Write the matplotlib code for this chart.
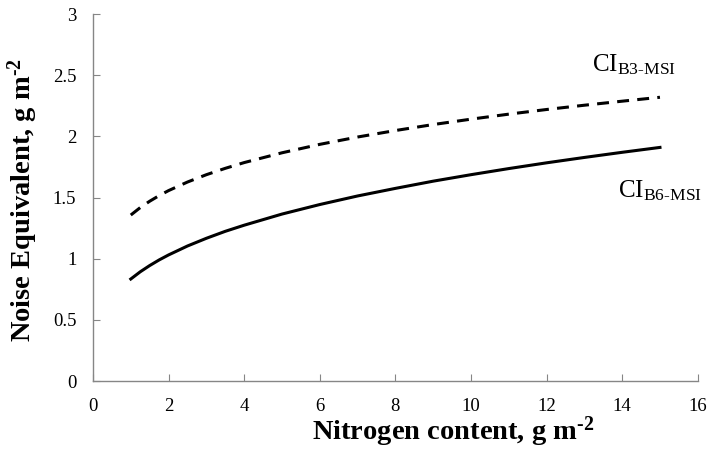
import numpy as np
import matplotlib
matplotlib.use('Agg')
import matplotlib.pyplot as plt

plt.rcParams['font.family'] = ['Liberation Serif', 'DejaVu Serif']
plt.rcParams['mathtext.fontset'] = 'custom'
plt.rcParams['mathtext.rm'] = 'Liberation Serif'
plt.rcParams['mathtext.bf'] = 'Liberation Serif:bold'
plt.rcParams['mathtext.it'] = 'Liberation Serif:italic'

# nitrogen content (g m-2)
n_content = [1, 1.25, 1.5, 1.75, 2, 2.5, 3, 3.5, 4, 5, 6, 7, 8, 9, 10,
             11, 12, 13, 14, 15]
# noise equivalent of the two indices
ne_b3 = [1.357, 1.418, 1.470, 1.516, 1.557, 1.627, 1.687, 1.739, 1.786,
         1.866, 1.935, 1.995, 2.048, 2.097, 2.141, 2.182, 2.220, 2.255,
         2.288, 2.320]
ne_b6 = [0.834, 0.893, 0.944, 0.990, 1.031, 1.104, 1.167, 1.224, 1.274,
         1.365, 1.443, 1.513, 1.575, 1.634, 1.687, 1.737, 1.784, 1.828,
         1.870, 1.910]

fig = plt.figure(figsize=(7.12, 4.55), dpi=100)
ax = fig.add_axes([0.1306, 0.1626, 0.8494, 0.8064])

ax.plot(n_content, ne_b3, color='black', lw=2.2, linestyle=(0, (3.9, 2.7)))
ax.plot(n_content, ne_b6, color='black', lw=2.2)

ax.text(13.2, 2.53, r'$\mathrm{CI}_{\mathrm{B3}\text{-}\mathrm{MSI}}$', fontsize=18)
ax.text(13.9, 1.50, r'$\mathrm{CI}_{\mathrm{B6}\text{-}\mathrm{MSI}}$', fontsize=18)

ax.set_xlim(0, 16)
ax.set_ylim(0, 3)
ax.set_xticks(np.arange(0, 17, 2))
ax.set_yticks(np.arange(0, 3.01, 0.5))
ax.set_yticklabels(['0', '0.5', '1', '1.5', '2', '2.5', '3'])

for s in ['top', 'right']:
    ax.spines[s].set_visible(False)
for s in ['left', 'bottom']:
    ax.spines[s].set_color('#868686')
    ax.spines[s].set_linewidth(1.0)
ax.tick_params(direction='in', length=5, color='#868686', labelsize=13.5, pad=12)

ax.set_xlabel(r'Nitrogen content, g m$^{\mathbf{\text{-}2}}$', fontsize=20.5, fontweight='bold')
ax.xaxis.set_label_coords(0.595, -0.09)
ax.set_ylabel(r'Noise Equivalent, g m$^{\mathbf{\text{-}2}}$', fontsize=20.5, fontweight='bold')
ax.yaxis.set_label_coords(-0.088, 0.493)

fig.savefig('out.png', dpi=100)
